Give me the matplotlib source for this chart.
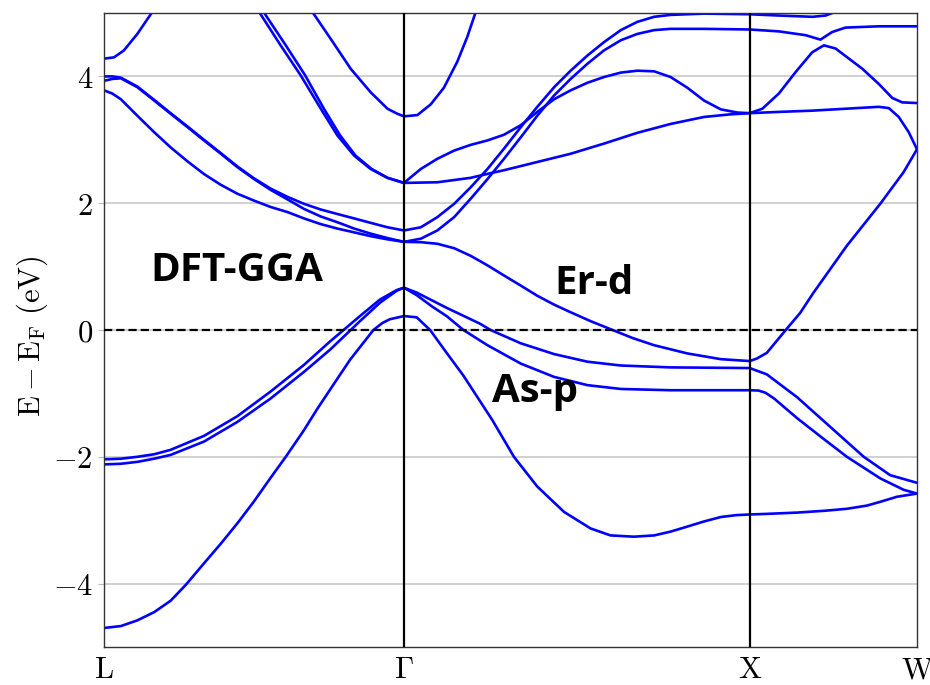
import matplotlib
matplotlib.use("Agg")
import matplotlib.pyplot as plt
import numpy as np

nan = np.nan

# high symmetry points on the k path
sym_k = [0.0, 0.873, 1.879, 2.366]
sym_labels = [r"$\mathrm{L}$", r"$\Gamma$", r"$\mathrm{X}$", r"$\mathrm{W}$"]
y_ticks = [-4, -2, 0, 2, 4]

# bands, (k, E - E_F) in eV; nan = leaves the window
band1 = [(0, -4.70), (0.049, -4.67), (0.097, -4.58), (0.146, -4.45), (0.194, -4.27),
         (0.238, -4.02), (0.291, -3.68), (0.340, -3.37), (0.388, -3.05), (0.437, -2.70),
         (0.485, -2.33), (0.529, -2.00), (0.582, -1.58), (0.620, -1.25), (0.658, -0.94),
         (0.716, -0.47), (0.784, 0.0), (0.810, 0.11), (0.832, 0.17), (0.873, 0.22),
         (0.910, 0.20), (0.949, 0.0), (0.997, -0.36), (1.046, -0.72), (1.094, -1.12),
         (1.130, -1.42), (1.193, -2.0), (1.261, -2.47), (1.339, -2.87), (1.416, -3.13),
         (1.474, -3.24), (1.542, -3.26), (1.601, -3.24), (1.649, -3.18), (1.698, -3.10),
         (1.746, -3.02), (1.795, -2.95), (1.840, -2.92), (1.879, -2.91), (1.930, -2.90),
         (2.017, -2.88), (2.100, -2.85), (2.162, -2.82), (2.220, -2.77), (2.259, -2.71),
         (2.308, -2.63), (2.366, -2.58)]

band2 = [(0, -2.12), (0.049, -2.11), (0.097, -2.08), (0.146, -2.03), (0.194, -1.97),
         (0.291, -1.76), (0.388, -1.45), (0.485, -1.08), (0.582, -0.66), (0.658, -0.31),
         (0.745, 0.14), (0.803, 0.43), (0.852, 0.62), (0.873, 0.667), (0.910, 0.55),
         (0.955, 0.37), (0.997, 0.22), (1.046, 0.0), (1.116, -0.24), (1.213, -0.53),
         (1.310, -0.74), (1.407, -0.87), (1.504, -0.93), (1.649, -0.95), (1.879, -0.95),
         (1.905, -0.955), (1.925, -0.99), (1.950, -1.08), (2.017, -1.39), (2.090, -1.70),
         (2.162, -2.0), (2.259, -2.34), (2.327, -2.52), (2.366, -2.58)]

band3 = [(0, -2.04), (0.049, -2.03), (0.097, -2.00), (0.146, -1.96), (0.194, -1.89),
         (0.291, -1.67), (0.388, -1.36), (0.485, -0.97), (0.582, -0.55), (0.658, -0.18),
         (0.745, 0.22), (0.803, 0.48), (0.852, 0.63), (0.873, 0.667), (0.910, 0.59),
         (0.997, 0.35), (1.094, 0.10), (1.125, 0.0), (1.213, -0.21), (1.310, -0.38),
         (1.407, -0.50), (1.504, -0.56), (1.649, -0.59), (1.879, -0.60), (1.929, -0.70),
         (2.017, -1.06), (2.114, -1.53), (2.211, -2.0), (2.288, -2.29), (2.366, -2.41)]

band4 = [(0, 3.78), (0.024, 3.73), (0.049, 3.64), (0.097, 3.38), (0.146, 3.12),
         (0.194, 2.88), (0.243, 2.66), (0.291, 2.46), (0.340, 2.29), (0.388, 2.15),
         (0.437, 2.04), (0.485, 1.94), (0.534, 1.86), (0.582, 1.76), (0.631, 1.67),
         (0.679, 1.60), (0.728, 1.54), (0.776, 1.48), (0.825, 1.43), (0.873, 1.39),
         (0.922, 1.385), (0.970, 1.36), (1.019, 1.29), (1.067, 1.17), (1.116, 1.02),
         (1.164, 0.86), (1.213, 0.70), (1.261, 0.54), (1.310, 0.40), (1.358, 0.28),
         (1.416, 0.14), (1.480, 0.0), (1.540, -0.13), (1.601, -0.24), (1.698, -0.37),
         (1.795, -0.46), (1.879, -0.49), (1.900, -0.45), (1.929, -0.36), (1.984, 0.0),
         (2.026, 0.27), (2.065, 0.59), (2.162, 1.33), (2.259, 1.99), (2.327, 2.49),
         (2.366, 2.85)]

band5 = [(0, 3.93), (0.024, 3.96), (0.049, 3.97), (0.097, 3.83), (0.146, 3.62),
         (0.194, 3.41), (0.243, 3.20), (0.291, 2.99), (0.340, 2.78), (0.388, 2.57),
         (0.437, 2.38), (0.485, 2.21), (0.534, 2.06), (0.582, 1.91), (0.631, 1.79),
         (0.679, 1.70), (0.728, 1.60), (0.776, 1.52), (0.825, 1.45), (0.873, 1.39),
         (0.922, 1.44), (0.970, 1.57), (1.019, 1.78), (1.067, 2.07), (1.116, 2.38),
         (1.164, 2.70), (1.213, 3.04), (1.261, 3.38), (1.310, 3.70), (1.358, 3.96),
         (1.407, 4.20), (1.455, 4.41), (1.504, 4.57), (1.552, 4.67), (1.601, 4.73),
         (1.649, 4.75), (1.746, 4.75), (1.879, 4.74), (1.964, 4.71), (2.042, 4.65),
         (2.085, 4.58), (2.119, 4.70), (2.158, 4.77), (2.255, 4.79), (2.366, 4.79)]

band6 = [(0, 4.00), (0.024, 4.00), (0.049, 3.98), (0.097, 3.84), (0.146, 3.63),
         (0.194, 3.42), (0.243, 3.21), (0.291, 3.00), (0.340, 2.79), (0.388, 2.58),
         (0.437, 2.39), (0.485, 2.23), (0.534, 2.10), (0.582, 1.99), (0.631, 1.90),
         (0.679, 1.83), (0.728, 1.76), (0.776, 1.69), (0.825, 1.62), (0.873, 1.57),
         (0.922, 1.62), (0.970, 1.78), (1.019, 1.99), (1.067, 2.25), (1.116, 2.54),
         (1.164, 2.86), (1.213, 3.20), (1.261, 3.52), (1.310, 3.83), (1.358, 4.09),
         (1.407, 4.33), (1.455, 4.54), (1.504, 4.73), (1.552, 4.86), (1.601, 4.94),
         (1.649, 4.97), (1.746, 4.99), (1.879, 4.98), (1.964, 4.96), (2.062, 4.94),
         (2.100, 4.96), (2.129, 5.02), (2.187, 5.25)]

band7 = [(0, 4.28), (0.029, 4.30), (0.058, 4.41), (0.097, 4.67), (0.141, 5.02),
         (0.170, 5.25), (0.300, nan), (0.430, 5.20), (0.451, 5.02), (0.514, 4.49),
         (0.572, 4.02), (0.631, 3.49), (0.679, 3.07), (0.728, 2.75), (0.776, 2.54),
         (0.825, 2.40), (0.873, 2.32), (0.970, 2.33), (1.067, 2.40), (1.106, 2.45),
         (1.164, 2.52), (1.261, 2.65), (1.358, 2.78), (1.455, 2.94), (1.552, 3.11),
         (1.649, 3.25), (1.746, 3.36), (1.820, 3.40), (1.879, 3.42), (1.964, 3.44),
         (2.062, 3.46), (2.158, 3.49), (2.255, 3.52), (2.284, 3.50), (2.313, 3.36),
         (2.342, 3.12), (2.366, 2.85)]

band8 = [(0.440, 5.20), (0.464, 5.02), (0.529, 4.49), (0.585, 4.02), (0.640, 3.49),
         (0.687, 3.07), (0.732, 2.75), (0.779, 2.54), (0.825, 2.40), (0.873, 2.32),
         (0.922, 2.54), (0.970, 2.70), (1.019, 2.83), (1.067, 2.92), (1.116, 2.99),
         (1.164, 3.08), (1.213, 3.23), (1.261, 3.44), (1.310, 3.64), (1.358, 3.78),
         (1.407, 3.90), (1.455, 3.99), (1.504, 4.06), (1.552, 4.09), (1.601, 4.08),
         (1.649, 3.99), (1.698, 3.82), (1.746, 3.62), (1.795, 3.48), (1.843, 3.43),
         (1.879, 3.42), (1.916, 3.49), (1.964, 3.73), (2.013, 4.07), (2.061, 4.38),
         (2.095, 4.49), (2.129, 4.44), (2.207, 4.12), (2.255, 3.88), (2.294, 3.66),
         (2.323, 3.59), (2.366, 3.58)]

band9 = [(0.590, 5.20), (0.606, 5.02), (0.660, 4.59), (0.718, 4.12), (0.776, 3.75),
         (0.825, 3.49), (0.854, 3.41), (0.873, 3.37), (0.912, 3.39), (0.951, 3.56),
         (0.989, 3.82), (1.028, 4.23), (1.057, 4.62), (1.082, 5.02), (1.100, 5.25)]

bands = [band1, band2, band3, band4, band5, band6, band7, band8, band9]

# region labels: (text, k, E)
notes = [("DFT-GGA", 0.136, 0.78), ("Er-d", 1.310, 0.56), ("As-p", 1.129, -1.13)]

plt.rcParams["mathtext.fontset"] = "cm"

fig = plt.figure(figsize=(9.3, 6.85), dpi=100)
ax = fig.add_axes([104 / 930, 38 / 685, 813 / 930, 634 / 685])

for b in bands:
    b = np.array(b)
    ax.plot(b[:, 0], b[:, 1], color="#0000ff", lw=1.9, zorder=2)

for k in sym_k[1:-1]:
    ax.axvline(k, color="k", lw=1.6, zorder=3)
ax.axhline(0, color="k", lw=1.6, ls=(0, (3.7, 1.8)), zorder=3)

ax.set_xlim(sym_k[0], sym_k[-1])
ax.set_ylim(-5, 5)
ax.set_xticks(sym_k)
ax.set_xticklabels(sym_labels, fontsize=22)
ax.set_yticks(y_ticks)
ax.set_yticklabels([r"$%d$" % v for v in y_ticks], fontsize=22)
ax.tick_params(axis="x", length=0, pad=6)
ax.tick_params(axis="y", length=4, color="#bbbbbb", pad=4)
ax.grid(axis="y", color="#c8c8c8", lw=1.2, zorder=0)
for s in ax.spines.values():
    s.set_color("#333333")
    s.set_linewidth(1.0)

ax.set_ylabel(r"$\mathrm{E - E_F\ (eV)}$", fontsize=22)
ax.yaxis.set_label_coords(-0.066, 0.49)

for txt, k, e in notes:
    ax.text(k, e, txt, fontsize=29, fontweight="bold", family=["Open Sans", "DejaVu Sans"],
            ha="left", va="baseline", zorder=4)

fig.savefig("out.png", dpi=100)
